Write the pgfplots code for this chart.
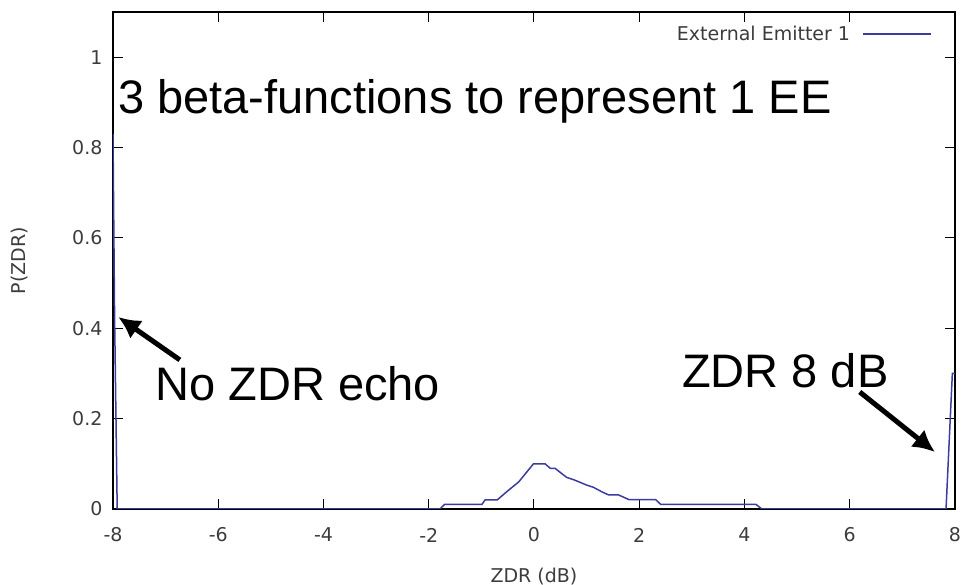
\documentclass[border=0pt]{standalone}
\usepackage{pgfplots}
\pgfplotsset{compat=1.18}
\usetikzlibrary{arrows.meta}
\usepackage{fontspec}
\setmainfont{Liberation Sans}
\newfontfamily\gp{DejaVu Sans}
\definecolor{curve}{RGB}{60,60,160}
\definecolor{gptext}{RGB}{60,60,60}
\begin{document}
\begin{tikzpicture}
\useasboundingbox (-113pt,-76pt) rectangle (849pt,509pt);
\begin{axis}[
  at={(0,0)}, anchor=south west,
  scale only axis, width=842pt, height=497pt,
  xmin=-8, xmax=8, ymin=0, ymax=1.1,
  xtick={-8,-6,-4,-2,0,2,4,6,8},
  ytick={0,0.2,0.4,0.6,0.8,1},
  yticklabels={0,0.2,0.4,0.6,0.8,1},
  tick align=inside, major tick length=10pt,
  tick style={black, line width=1pt},
  axis line style={black, line width=1.2pt},
  /pgf/number format/assume math mode=true,
  ticklabel style={font=\gp\fontsize{19}{21}\selectfont, text=gptext},
  xticklabel style={anchor=center, yshift=-26pt},
  yticklabel style={xshift=-7pt},
  xlabel={ZDR (dB)}, ylabel={P(ZDR)},
  label style={font=\gp\fontsize{19}{21}\selectfont, text=gptext},
  xlabel style={at={(axis description cs:0.5,-0.135)}, anchor=center},
  ylabel style={at={(axis description cs:-0.111,0.5)}, anchor=center},
  legend style={draw=none, fill=none, at={(axis description cs:0.976,0.98)}, anchor=north east,
    font=\gp\fontsize{19}{21}\selectfont, text=gptext},
  legend cell align=right, legend plot pos=right,
  legend image code/.code={\path (0pt,0pt); \draw[#1] (10pt,0pt) -- (78pt,0pt);},
  clip=true,
]
\addplot[curve, line width=1.5pt, mark=none] coordinates {
(-8,0.83) (-7.97,0.43) (-7.92,0) (-1.79,0) (-1.70,0.01) (-0.99,0.01) (-0.93,0.02)
(-0.70,0.02) (-0.50,0.04) (-0.29,0.06) (-0.01,0.10) (0.21,0.10) (0.31,0.09) (0.40,0.09)
(0.62,0.07) (0.75,0.065) (1.00,0.053) (1.13,0.048) (1.29,0.038) (1.42,0.031) (1.61,0.031)
(1.80,0.021) (2.31,0.021) (2.41,0.01) (4.22,0.01) (4.33,0) (7.83,0) (7.95,0.30) (8,0.30)
};
\addlegendentry{External Emitter 1}
\node[anchor=base west, inner sep=0pt, font=\fontsize{47}{50}\selectfont] at (axis cs:-7.905,0.876) {3 beta-functions to represent 1 EE};
\node[anchor=base west, inner sep=0pt, font=\fontsize{47}{50}\selectfont] at (axis cs:-7.20,0.241) {No ZDR echo};
\node[anchor=base west, inner sep=0pt, font=\fontsize{47}{50}\selectfont] at (axis cs:2.81,0.27) {ZDR 8 dB};
\draw[line width=5pt, -{Latex[length=22pt,width=22pt]}] (axis cs:-6.73,0.33) -- (axis cs:-7.90,0.425);
\draw[line width=5pt, -{Latex[length=22pt,width=22pt]}] (axis cs:6.19,0.259) -- (axis cs:7.62,0.126);
\end{axis}
\end{tikzpicture}
\end{document}
